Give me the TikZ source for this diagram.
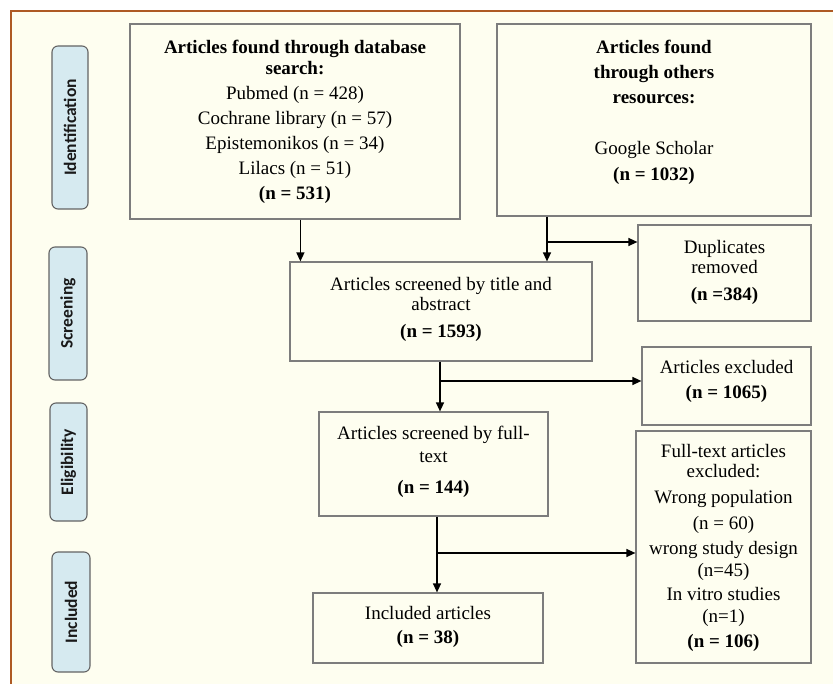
\documentclass[tikz,border=0pt]{standalone}
\usepackage{fontspec}
\setmainfont{Liberation Serif}
\newfontfamily\labfont{Carlito}
\usetikzlibrary{arrows.meta}
\definecolor{cream}{RGB}{254,254,240}
\definecolor{framebrown}{RGB}{174,90,36}
\definecolor{boxgray}{RGB}{125,125,125}
\definecolor{labfill}{RGB}{214,234,240}
\definecolor{labdraw}{RGB}{100,100,100}
\tikzset{
  boxshape/.style={draw=boxgray, line width=1.2pt, inner sep=0pt},
  boxtext/.style={inner sep=0pt, align=center, font=\fontsize{19}{25}\selectfont},
  phase/.style={draw=labdraw, fill=labfill, line width=1.1pt, rounded corners=6pt,
    rotate=90, inner sep=0pt, font=\labfont\bfseries\fontsize{17.5}{20}\selectfont, text=black!90},
  arr/.style={line width=1.3pt, -{Triangle[length=9pt,width=8pt]}},
  seg/.style={line width=1.3pt}
}
\begin{document}
\begin{tikzpicture}[x=1pt,y=-1pt]
\useasboundingbox (0,0) rectangle (833,684);
\clip (0,0) rectangle (833,684);
\fill[white] (0,0) rectangle (833,684);
\fill[cream] (11,11) rectangle (850,700);
\draw[framebrown, line width=2pt] (11,700) -- (11,11) -- (850,11);

% phase labels
\node[phase, minimum width=163pt, minimum height=36pt] (pid) at (70,127.5) {Identification};
\node[phase, minimum width=133pt, minimum height=38pt] (psc) at (68,313.5) {Screening};
\node[phase, minimum width=118pt, minimum height=37pt] (pel) at (68.5,462) {Eligibility};
\node[phase, minimum width=120pt, minimum height=38pt] (pin) at (71,612) {Included};

% boxes
\node[boxshape, minimum width=330pt, minimum height=195pt] (db) at (295,121.5) {};
\node[boxtext] (dbt) at (295,121.5) {\textbf{Articles found through database}\\[-4pt]
  \textbf{search:}\\ Pubmed (n = 428)\\ Cochrane library (n = 57)\\ Epistemonikos (n = 34)\\
  Lilacs (n = 51)\\ \textbf{(n = 531)}};

\node[boxshape, minimum width=314pt, minimum height=192pt] (ot) at (654,120) {};
\node[boxtext] (ott) at (654,112) {\textbf{Articles found}\\ \textbf{through others}\\
  \textbf{resources:}\\[26pt] Google Scholar\\[1pt] \textbf{(n = 1032)}};

\node[boxshape, minimum width=173pt, minimum height=96pt] (dup) at (724.5,273) {};
\node[boxtext] (dupt) at (724.5,272) {Duplicates\\[-5pt] removed\\[2pt] \textbf{(n =384)}};

\node[boxshape, minimum width=302pt, minimum height=99pt] (scr) at (441,311.5) {};
\node[boxtext] (scrt) at (441,309) {Articles screened by title and\\[-5pt] abstract\\[2pt] \textbf{(n = 1593)}};

\node[boxshape, minimum width=169pt, minimum height=78pt] (exc) at (726.5,386) {};
\node[boxtext] (exct) at (726.5,381) {Articles excluded\\ \textbf{(n = 1065)}};

\node[boxshape, minimum width=229pt, minimum height=104pt] (ft) at (433.5,464) {};
\node[boxtext] (ftt) at (433.5,462) {Articles screened by full-\\[-2pt] text\\[6pt] \textbf{(n = 144)}};

\node[boxshape, minimum width=175pt, minimum height=232pt] (fte) at (723.5,547) {};
\node[boxtext] (ftet) at (723.5,548) {Full-text articles\\[-5pt] excluded:\\[1pt] Wrong population\\[1pt]
  (n = 60)\\ wrong study design\\[-3pt] (n=45)\\[-1pt] In vitro studies\\[-3pt] (n=1)\\ \textbf{(n = 106)}};

\node[boxshape, minimum width=230pt, minimum height=70pt] (inc) at (428,628) {};
\node[boxtext] (inct) at (428,627) {Included articles\\[-1pt] \textbf{(n = 38)}};

% connectors
\draw[arr] ([xshift=11pt]scr.north west |- db.south) -- ([xshift=11pt]scr.north west);
\coordinate (j1) at (547,242);
\draw[arr] (j1 |- ot.south) -- (j1 |- scr.north);
\draw[arr] (j1) -- (j1 -| dup.west);

\coordinate (j2) at (440,381);
\draw[arr] (j2 |- scr.south) -- (j2 |- ft.north);
\draw[arr] (j2) -- (j2 -| exc.west);

\coordinate (j3) at (437,553);
\draw[arr] (j3 |- ft.south) -- (j3 |- inc.north);
\draw[arr] (j3) -- (j3 -| fte.west);
\end{tikzpicture}
\end{document}
